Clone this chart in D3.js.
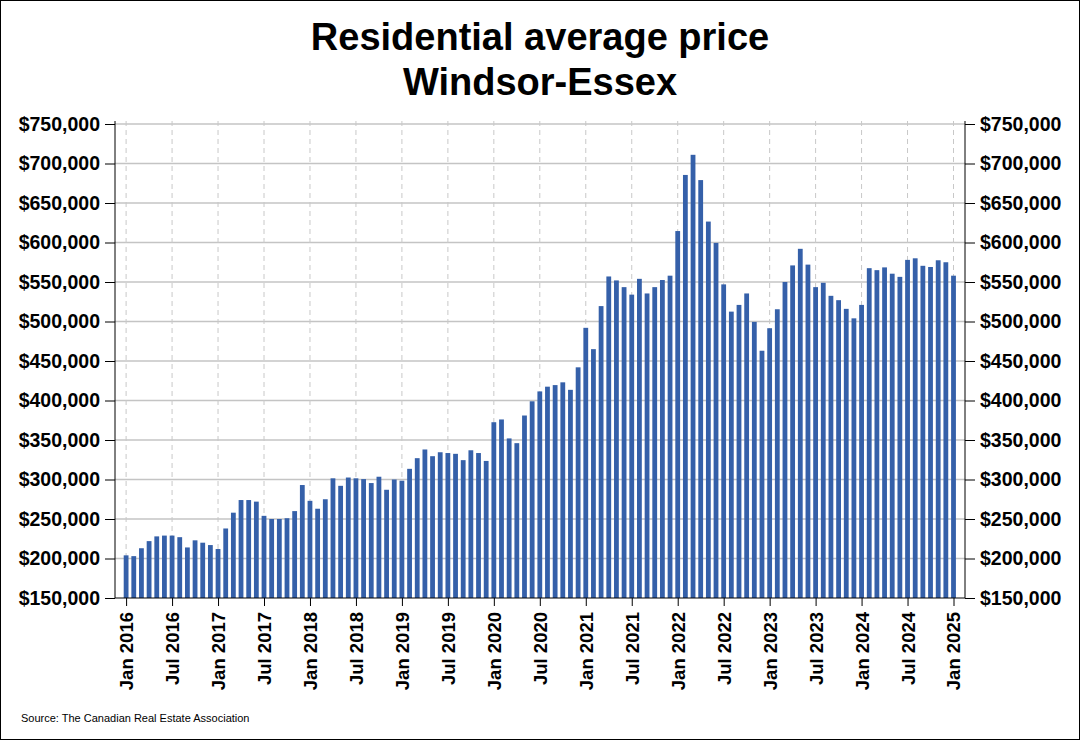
<!DOCTYPE html>
<html>
<head>
<meta charset="utf-8">
<script src="https://cdn.jsdelivr.net/npm/d3@7"></script>
<style>
  html, body { margin: 0; padding: 0; background: #fff; }
  svg { display: block; }
  text { font-family: "Liberation Sans", Arial, sans-serif; }
</style>
</head>
<body>
<svg id="chart" width="1080" height="740"></svg>
<script>
// ---- Data (average price, CAD) ----
const titleLines = ["Residential average price", "Windsor-Essex"];
const sourceText = "Source: The Canadian Real Estate Association";
const startMonth = "2016-01";
const prices2016 = [204000, 203000, 213000, 222000, 228000, 229000, 229000, 227000, 214000, 223000, 220000, 217000];
const prices2017 = [212000, 238000, 258000, 274000, 274000, 272000, 254000, 250000, 250000, 251000, 260000, 293000];
const prices2018 = [273000, 263000, 275000, 301500, 292000, 302500, 301500, 300500, 295500, 303500, 287000, 300000];
const prices2019 = [298500, 313500, 327000, 338000, 329500, 334500, 333500, 332500, 324500, 337000, 333500, 323500];
const prices2020 = [372500, 376000, 352000, 346000, 381000, 399000, 411500, 417500, 419500, 423000, 413500, 442000];
const prices2021 = [492000, 465000, 519500, 557000, 552000, 543500, 534000, 554000, 535500, 543500, 552500, 558000];
const prices2022 = [614500, 685500, 711000, 679000, 626500, 599500, 547000, 512500, 521000, 535500, 499500, 463000];
const prices2023 = [491500, 515500, 550000, 571000, 592000, 572000, 543500, 549000, 532500, 527000, 516000, 504000];
const prices2024 = [521000, 567500, 565000, 568500, 560500, 556500, 578000, 580000, 570500, 569000, 577500, 575000];
const prices2025 = [558000];
const yTicks = [150000, 200000, 250000, 300000, 350000, 400000, 450000, 500000, 550000, 600000, 650000, 700000, 750000];
const xTickLabels = ["Jan 2016", "Jul 2016", "Jan 2017", "Jul 2017", "Jan 2018", "Jul 2018", "Jan 2019", "Jul 2019",
  "Jan 2020", "Jul 2020", "Jan 2021", "Jul 2021", "Jan 2022", "Jul 2022", "Jan 2023", "Jul 2023",
  "Jan 2024", "Jul 2024", "Jan 2025"];

const values = [].concat(prices2016, prices2017, prices2018, prices2019, prices2020,
  prices2021, prices2022, prices2023, prices2024, prices2025);
const startDate = d3.timeParse("%Y-%m")(startMonth);
const data = values.map((v, i) => ({ i, date: d3.timeMonth.offset(startDate, i), value: v }));
const xTickIdx = xTickLabels.map((_, k) => k * 6);

// ---- Layout ----
const W = 1080, H = 740;
const plotL = 115, plotR = 965, plotT = 121, plotB = 598;
const svg = d3.select("#chart");

svg.append("rect").attr("x", 0.5).attr("y", 0.5).attr("width", W - 1).attr("height", H - 1)
  .attr("fill", "#fff").attr("stroke", "#000").attr("stroke-width", 1);

const x = d3.scaleLinear().domain([-1.45, values.length - 1 + 1.5]).range([plotL, plotR]);
const y = d3.scaleLinear().domain([150000, 750000]).range([plotB, 124]);
const barW = 4.8;
const fmt = v => "$" + d3.format(",")(v);

// Horizontal gridlines
svg.append("g").selectAll("line").data(yTicks.slice(1)).join("line")
  .attr("x1", plotL).attr("x2", plotR)
  .attr("y1", d => y(d)).attr("y2", d => y(d))
  .attr("stroke", "#c4c4c4").attr("stroke-width", 1.5);

// Vertical dashed gridlines
svg.append("g").selectAll("line").data(xTickIdx).join("line")
  .attr("x1", d => x(d)).attr("x2", d => x(d))
  .attr("y1", plotT).attr("y2", plotB)
  .attr("stroke", "#c8c8c8").attr("stroke-width", 1).attr("stroke-dasharray", "5,4");

// Bars
svg.append("g").selectAll("rect").data(data).join("rect")
  .attr("x", d => x(d.i) - barW / 2)
  .attr("width", barW)
  .attr("y", d => y(d.value))
  .attr("height", d => y(150000) - y(d.value))
  .attr("fill", "#3560a9");

// Left axis
const yAxisL = svg.append("g").attr("transform", `translate(${plotL},0)`)
  .call(d3.axisLeft(y).tickValues(yTicks).tickFormat(fmt).tickSize(10).tickPadding(5));
// Right axis
const yAxisR = svg.append("g").attr("transform", `translate(${plotR},0)`)
  .call(d3.axisRight(y).tickValues(yTicks).tickFormat(fmt).tickSize(10).tickPadding(5));
[yAxisL, yAxisR].forEach(g => {
  g.select(".domain").attr("d", `M0,${plotT}V${plotB}`).attr("stroke", "#000");
  g.selectAll(".tick line").attr("stroke", "#000");
  g.selectAll(".tick text").attr("font-size", 19.5).attr("font-weight", "bold").attr("fill", "#000")
    .style("font-family", '"Liberation Sans", Arial, sans-serif');
});

// Bottom axis
const xAxis = svg.append("g").attr("transform", `translate(0,${plotB})`)
  .call(d3.axisBottom(x).tickValues(xTickIdx).tickFormat((d, k) => xTickLabels[k]).tickSize(8));
xAxis.select(".domain").attr("d", `M${plotL},0H${plotR}`).attr("stroke", "#000");
xAxis.selectAll(".tick line").attr("stroke", "#000");
xAxis.selectAll(".tick text")
  .attr("font-size", 18.5).attr("font-weight", "bold").attr("fill", "#000")
  .style("font-family", '"Liberation Sans", Arial, sans-serif')
  .attr("text-anchor", "end").attr("dy", "0.35em")
  .attr("transform", "translate(0,14) rotate(-90)")
  .attr("x", 0).attr("y", 0);

// Title
svg.append("g").selectAll("text").data(titleLines).join("text")
  .attr("x", W / 2).attr("y", (d, k) => 50 + k * 45)
  .attr("text-anchor", "middle").attr("font-size", 38).attr("font-weight", "bold").attr("fill", "#000")
  .text(d => d);

// Source
svg.append("text").attr("x", 21).attr("y", 722).attr("font-size", 11).attr("fill", "#000")
  .text(sourceText);
</script>
</body>
</html>
